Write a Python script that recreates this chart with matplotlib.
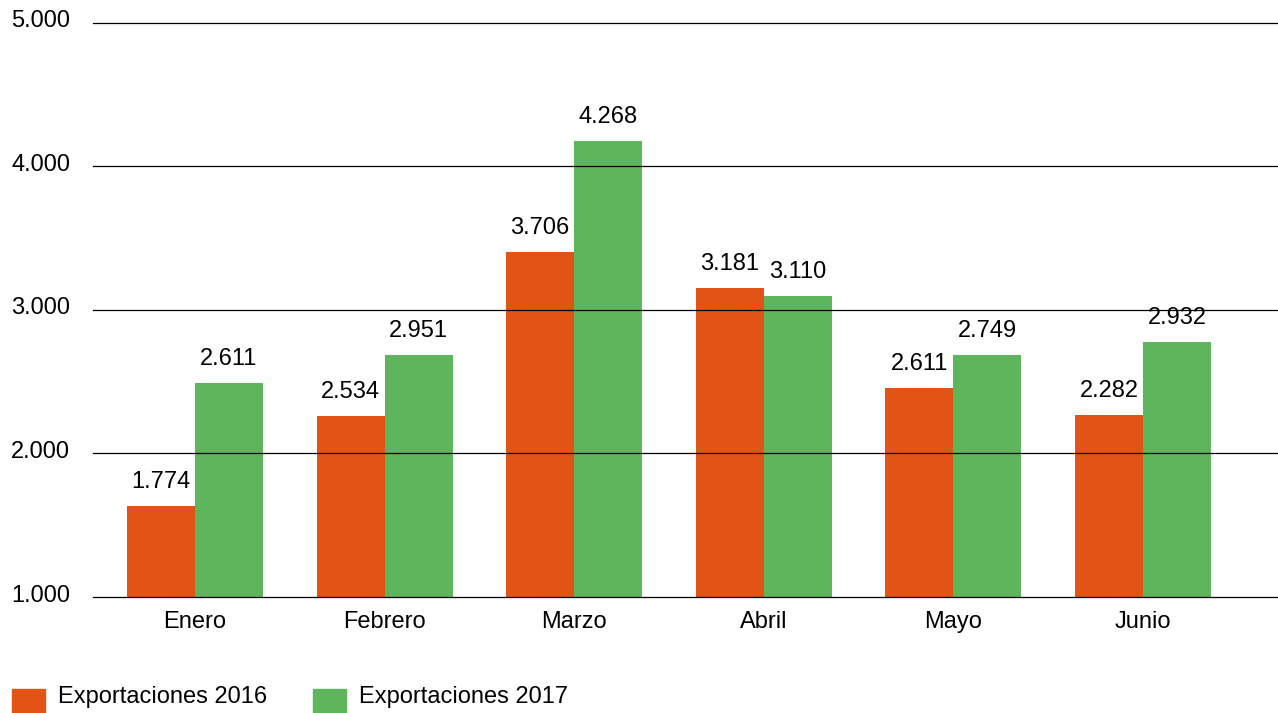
# Exportaciones 2016 vs 2017 - grouped bars

import matplotlib
matplotlib.use("Agg")
import matplotlib.pyplot as plt
from matplotlib.patches import Rectangle
from matplotlib.ticker import FuncFormatter
import matplotlib.transforms as mtransforms
import numpy as np

plt.rcParams['font.family'] = ['Liberation Sans', 'DejaVu Sans']

months = ["Enero", "Febrero", "Marzo", "Abril", "Mayo", "Junio"]
# bar heights as drawn in the chart
bars_2016 = [1634, 2261, 3404, 3153, 2456, 2268]
bars_2017 = [2491, 2686, 4178, 3098, 2686, 2777]
# value labels printed above the bars
labels_2016 = ["1.774", "2.534", "3.706", "3.181", "2.611", "2.282"]
labels_2017 = ["2.611", "2.951", "4.268", "3.110", "2.749", "2.932"]
series_names = ["Exportaciones 2016", "Exportaciones 2017"]
yticks = [1000, 2000, 3000, 4000, 5000]

orange = "#E25415"
green = "#5FB55B"
fs = 17

W, H = 1278, 713
fig = plt.figure(figsize=(W / 100, H / 100), dpi=100)
ax = fig.add_axes([93 / W, 1 - 597 / H, (W - 93) / W, (597 - 23) / H])

x = np.arange(len(months))
w = 0.3585
b1 = ax.bar(x - w / 2, np.array(bars_2016) - 1000, w, bottom=1000, color=orange, zorder=1)
b2 = ax.bar(x + w / 2, np.array(bars_2017) - 1000, w, bottom=1000, color=green, zorder=1)

for bars, labs in ((b1, labels_2016), (b2, labels_2017)):
    for rect, lab in zip(bars, labs):
        ax.annotate(lab, (rect.get_x() + rect.get_width() / 2, rect.get_y() + rect.get_height()),
                    xytext=(0, 17), textcoords="offset points", ha="center", va="center",
                    fontsize=fs, color="black")

ax.set_xlim(-0.537, 5.711)
ax.set_ylim(1000, 5000)
ax.set_yticks(yticks)
ax.yaxis.set_major_formatter(FuncFormatter(lambda v, p: f"{v:,.0f}".replace(",", ".")))
ax.set_xticks(x)
ax.set_xticklabels(months)
ax.tick_params(axis="both", length=0, labelsize=fs, colors="black")
ax.tick_params(axis="y", pad=16.5)
ax.tick_params(axis="x", pad=10)

shift = mtransforms.ScaledTranslation(0, 4 / 100, fig.dpi_scale_trans)
for lbl in ax.get_yticklabels():
    lbl.set_transform(lbl.get_transform() + shift)

# horizontal rules on top of the bars
for v in yticks:
    ax.axhline(v, color="black", linewidth=0.9, zorder=3, clip_on=False)
for s in ax.spines.values():
    s.set_visible(False)

# legend at the bottom left
for i, (name, col) in enumerate(zip(series_names, [orange, green])):
    x0 = [12, 313][i]
    fig.patches.append(Rectangle((x0 / W, -9 / H), 33 / W, 33 / H, transform=fig.transFigure,
                                 color=col, figure=fig))
    fig.text((x0 + 46) / W, 1 - 697 / H, name, fontsize=fs, va="center", ha="left", color="black")

fig.savefig("out.png", dpi=100)
